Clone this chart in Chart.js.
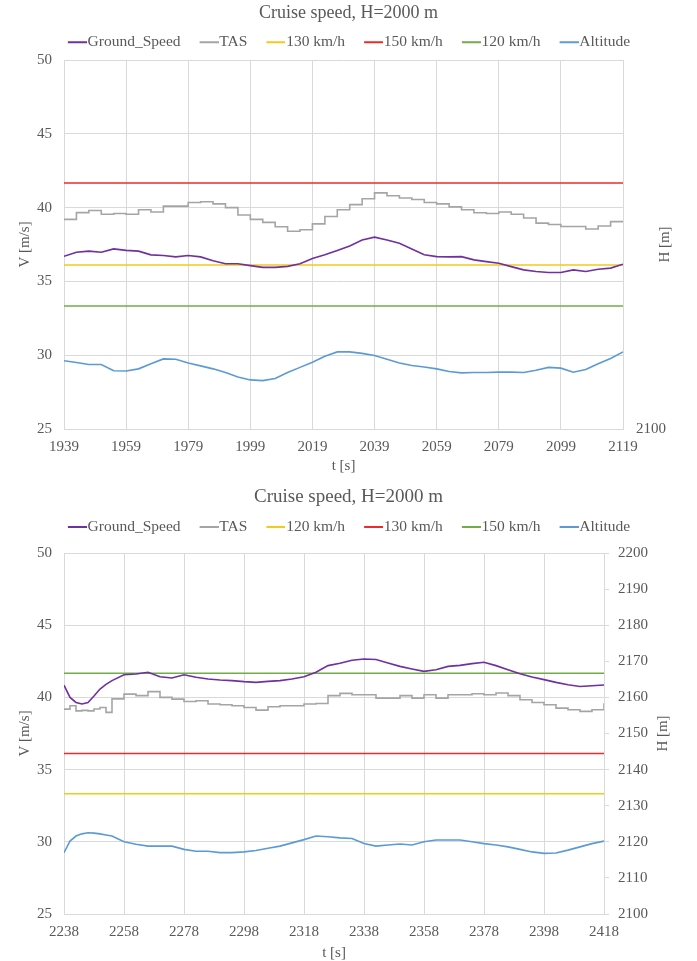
<!DOCTYPE html>
<html>
<head>
<meta charset="utf-8">
<title>Cruise speed, H=2000 m</title>
<script src="https://cdn.jsdelivr.net/npm/chart.js"></script>
<style>
    body { margin: 0; background: #fff; }
    canvas { display: block; }
</style>
</head>
<body>
<canvas id="chart-top" width="697" height="478"></canvas>
<canvas id="chart-bottom" width="697" height="483"></canvas>
<script>
// ===== DATA =====

// Upper chart: t = 1939 ... 2119 s
const topTime = [1939, 1943, 1947, 1951, 1955, 1959, 1963, 1967, 1971, 1975,
    1979, 1983, 1987, 1991, 1995, 1999, 2003, 2007, 2011, 2015,
    2019, 2023, 2027, 2031, 2035, 2039, 2043, 2047, 2051, 2055,
    2059, 2063, 2067, 2071, 2075, 2079, 2083, 2087, 2091, 2095,
    2099, 2103, 2107, 2111, 2115, 2119];
const topGroundSpeed = [36.7, 36.98, 37.05, 36.98, 37.2, 37.1, 37.05, 36.8, 36.75, 36.66,
    36.75, 36.66, 36.4, 36.2, 36.2, 36.07, 35.95, 35.95, 36.02, 36.2,
    36.55, 36.8, 37.1, 37.4, 37.8, 38.0, 37.8, 37.58, 37.2, 36.8,
    36.68, 36.66, 36.68, 36.46, 36.34, 36.23, 36.0, 35.78, 35.67, 35.6,
    35.6, 35.78, 35.67, 35.82, 35.9, 36.16];
const topTas = [39.2, 39.66, 39.8, 39.55, 39.6, 39.55, 39.85, 39.7, 40.1, 40.1,
    40.35, 40.4, 40.25, 40.0, 39.5, 39.2, 39.0, 38.7, 38.4, 38.5,
    38.9, 39.4, 39.85, 40.2, 40.6, 41.0, 40.8, 40.65, 40.55, 40.35,
    40.25, 40.05, 39.85, 39.65, 39.6, 39.7, 39.55, 39.3, 38.95, 38.85,
    38.72, 38.72, 38.55, 38.75, 39.05, 39.1];
const topAltitude = [2118.5, 2118.0, 2117.5, 2117.5, 2115.8, 2115.7, 2116.3, 2117.7, 2119.0, 2118.9,
    2117.9, 2117.1, 2116.3, 2115.3, 2114.1, 2113.3, 2113.1, 2113.7, 2115.3, 2116.7,
    2118.1, 2119.7, 2120.9, 2120.9, 2120.5, 2119.9, 2118.9, 2117.9, 2117.2, 2116.8,
    2116.3, 2115.6, 2115.2, 2115.3, 2115.3, 2115.4, 2115.4, 2115.3, 2115.9, 2116.7,
    2116.5, 2115.4, 2116.1, 2117.7, 2119.1, 2120.9];
const topLimitLabels = ['130 km/h', '150 km/h', '120 km/h'];
const topLimitValues = [36.11, 41.67, 33.33];

// Lower chart: t = 2238 ... 2418 s
const bottomTime = [2238, 2240, 2242, 2244, 2246, 2248, 2250, 2252, 2254, 2258,
    2262, 2266, 2270, 2274, 2278, 2282, 2286, 2290, 2294, 2298,
    2302, 2306, 2310, 2314, 2318, 2322, 2326, 2330, 2334, 2338,
    2342, 2346, 2350, 2354, 2358, 2362, 2366, 2370, 2374, 2378,
    2382, 2386, 2390, 2394, 2398, 2402, 2406, 2410, 2414, 2418];
const bottomGroundSpeed = [40.85, 40.0, 39.65, 39.54, 39.65, 40.1, 40.58, 40.9, 41.16, 41.57,
    41.62, 41.74, 41.43, 41.34, 41.57, 41.39, 41.27, 41.2, 41.16, 41.09,
    41.04, 41.11, 41.16, 41.27, 41.43, 41.74, 42.2, 42.36, 42.57, 42.66,
    42.62, 42.38, 42.15, 41.97, 41.8, 41.92, 42.15, 42.22, 42.34, 42.43,
    42.2, 41.92, 41.64, 41.41, 41.23, 41.04, 40.88, 40.76, 40.81, 40.86];
const bottomTas = [39.19, 39.42, 39.07, 39.1, 39.07, 39.2, 39.3, 38.96, 39.9, 40.23,
    40.12, 40.4, 40.0, 39.88, 39.72, 39.77, 39.54, 39.49, 39.42, 39.3,
    39.12, 39.35, 39.42, 39.42, 39.54, 39.58, 40.12, 40.28, 40.18, 40.18,
    39.95, 39.95, 40.12, 39.95, 40.18, 39.95, 40.18, 40.18, 40.25, 40.18,
    40.3, 40.12, 39.84, 39.65, 39.49, 39.26, 39.14, 39.03, 39.14, 39.6];
const bottomAltitude = [2117.0, 2120.2, 2121.6, 2122.2, 2122.5, 2122.4, 2122.2, 2121.9, 2121.6, 2120.0,
    2119.3, 2118.8, 2118.8, 2118.8, 2117.9, 2117.4, 2117.4, 2117.0, 2117.0, 2117.2,
    2117.6, 2118.2, 2118.8, 2119.7, 2120.6, 2121.6, 2121.4, 2121.1, 2120.9, 2119.5,
    2118.8, 2119.1, 2119.4, 2119.1, 2120.0, 2120.5, 2120.5, 2120.5, 2120.0, 2119.5,
    2119.1, 2118.6, 2117.9, 2117.2, 2116.8, 2116.9, 2117.7, 2118.6, 2119.5, 2120.2];
const bottomLimitLabels = ['120 km/h', '130 km/h', '150 km/h'];
const bottomLimitValues = [33.33, 36.11, 41.67];

const speedTicks = { min: 25, max: 50, step: 5 };
const altitudeTicks = { min: 2100, max: 2200, step: 10 };
const timeStep = 20;

// ===== STYLE =====

const TEXT = '#595959';
const GRID = '#D9D9D9';
const FONT = "'Liberation Serif', 'Times New Roman', serif";
const seriesColors = ['#7030A0', '#A5A5A5', '#EFCB1A', '#EE2A2A', '#70AD47', '#5B9BD5'];

// short line used as legend marker (line sits right against the text)
function lineIcon(color) {
    const c = document.createElement('canvas');
    c.width = 27;
    c.height = 4;
    const g = c.getContext('2d');
    g.strokeStyle = color;
    g.lineWidth = 2;
    g.beginPath();
    g.moveTo(8, 2);
    g.lineTo(27, 2);
    g.stroke();
    return c;
}

// right axis title, reading bottom-to-top like the left one
const rightTitle = {
    id: 'rightTitle',
    afterDraw(chart, args, opts) {
        const { ctx, chartArea } = chart;
        ctx.save();
        ctx.translate(opts.x, (chartArea.top + chartArea.bottom) / 2);
        ctx.rotate(-Math.PI / 2);
        ctx.font = `15px ${FONT}`;
        ctx.fillStyle = TEXT;
        ctx.textAlign = 'center';
        ctx.textBaseline = 'middle';
        ctx.fillText(opts.text, 0, 0);
        ctx.restore();
    }
};

function buildChart(id, s, L) {
    const xMin = s.time[0];
    const xMax = s.time[s.time.length - 1];
    const pts = vals => s.time.map((t, i) => ({ x: t, y: vals[i] }));
    const flat = v => [{ x: xMin, y: v }, { x: xMax, y: v }];

    const datasets = [
        { label: 'Ground_Speed', data: pts(s.ground), yAxisID: 'y' },
        { label: 'TAS', data: pts(s.tas), yAxisID: 'y', stepped: true },
        ...s.limitLabels.map((l, i) => ({ label: l, data: flat(s.limitValues[i]), yAxisID: 'y' })),
        { label: 'Altitude', data: pts(s.alt), yAxisID: 'y2' }
    ];
    datasets.forEach((d, i) => {
        d.borderColor = seriesColors[i];
        d.backgroundColor = seriesColors[i];
        d.borderWidth = 1.6;
        d.pointRadius = 0;
        d.tension = 0;
        d.fill = false;
    });

    const tickFont = { family: FONT, size: 15 };

    return new Chart(document.getElementById(id), {
        type: 'line',
        data: { datasets },
        plugins: [rightTitle],
        options: {
            responsive: false,
            animation: false,
            devicePixelRatio: 1,
            layout: { padding: 0 },
            plugins: {
                title: {
                    display: true,
                    text: 'Cruise speed, H=2000 m',
                    color: TEXT,
                    font: { family: FONT, size: L.titleSize, weight: 'normal', lineHeight: L.titleLH },
                    padding: { top: L.titlePadTop, bottom: 0 }
                },
                subtitle: {
                    display: L.spacer > 0,
                    text: '',
                    weight: 500,
                    padding: 0,
                    font: { size: L.spacer || 1, lineHeight: 1 }
                },
                legend: {
                    labels: {
                        usePointStyle: true,
                        pointStyleWidth: 13,
                        padding: 18,
                        color: TEXT,
                        font: { family: FONT, size: 15.5 },
                        generateLabels(chart) {
                            const items = Chart.defaults.plugins.legend.labels.generateLabels(chart);
                            items.forEach(it => { it.pointStyle = lineIcon(seriesColors[it.datasetIndex]); });
                            return items;
                        }
                    }
                },
                tooltip: { enabled: false },
                rightTitle: { text: 'H [m]', x: L.rightTitleX }
            },
            scales: {
                x: {
                    type: 'linear',
                    min: xMin,
                    max: xMax,
                    afterFit: sc => { sc.height = L.xHeight; },
                    ticks: { stepSize: timeStep, color: TEXT, font: tickFont, padding: 9, maxRotation: 0, callback: v => String(v) },
                    grid: { color: GRID, drawTicks: false },
                    border: { color: GRID },
                    title: {
                        display: true,
                        text: 't [s]',
                        color: TEXT,
                        font: { family: FONT, size: 15, lineHeight: 1 },
                        padding: { top: 0, bottom: L.xTitlePad }
                    }
                },
                y: {
                    position: 'left',
                    min: speedTicks.min,
                    max: speedTicks.max,
                    afterFit: sc => { sc.width = 64; },
                    ticks: { stepSize: speedTicks.step, color: TEXT, font: tickFont, padding: 12 },
                    grid: { color: GRID, drawTicks: false },
                    border: { display: false },
                    title: {
                        display: true,
                        text: 'V [m/s]',
                        color: TEXT,
                        font: { family: FONT, size: 15, lineHeight: 1.2 },
                        padding: { top: 16, bottom: 0 }
                    }
                },
                y2: {
                    position: 'right',
                    min: altitudeTicks.min,
                    max: altitudeTicks.max,
                    afterFit: sc => { sc.width = L.rightWidth; },
                    ticks: {
                        stepSize: altitudeTicks.step,
                        autoSkip: false,
                        color: TEXT,
                        font: tickFont,
                        padding: L.rightPad,
                        callback: v => (L.allRightLabels || v === altitudeTicks.min) ? String(v) : ''
                    },
                    grid: { display: L.rightTickMarks, drawOnChartArea: false, drawTicks: L.rightTickMarks, tickLength: 5, color: GRID },
                    border: { display: false }
                }
            }
        }
    });
}

document.addEventListener('DOMContentLoaded', () => {
    buildChart('chart-top', {
        time: topTime, ground: topGroundSpeed, tas: topTas, alt: topAltitude,
        limitLabels: topLimitLabels, limitValues: topLimitValues
    }, {
        titleSize: 18, titleLH: 0.35, titlePadTop: 10.2, spacer: 0,
        xHeight: 49, xTitlePad: 4.5,
        rightWidth: 74, rightPad: 13, rightTickMarks: false, allRightLabels: false, rightTitleX: 665
    });

    buildChart('chart-bottom', {
        time: bottomTime, ground: bottomGroundSpeed, tas: bottomTas, alt: bottomAltitude,
        limitLabels: bottomLimitLabels, limitValues: bottomLimitValues
    }, {
        titleSize: 19, titleLH: 0.45, titlePadTop: 14.7, spacer: 8.25,
        xHeight: 47, xTitlePad: 0,
        rightWidth: 93, rightPad: 9, rightTickMarks: true, allRightLabels: true, rightTitleX: 663
    });
});
</script>
</body>
</html>
